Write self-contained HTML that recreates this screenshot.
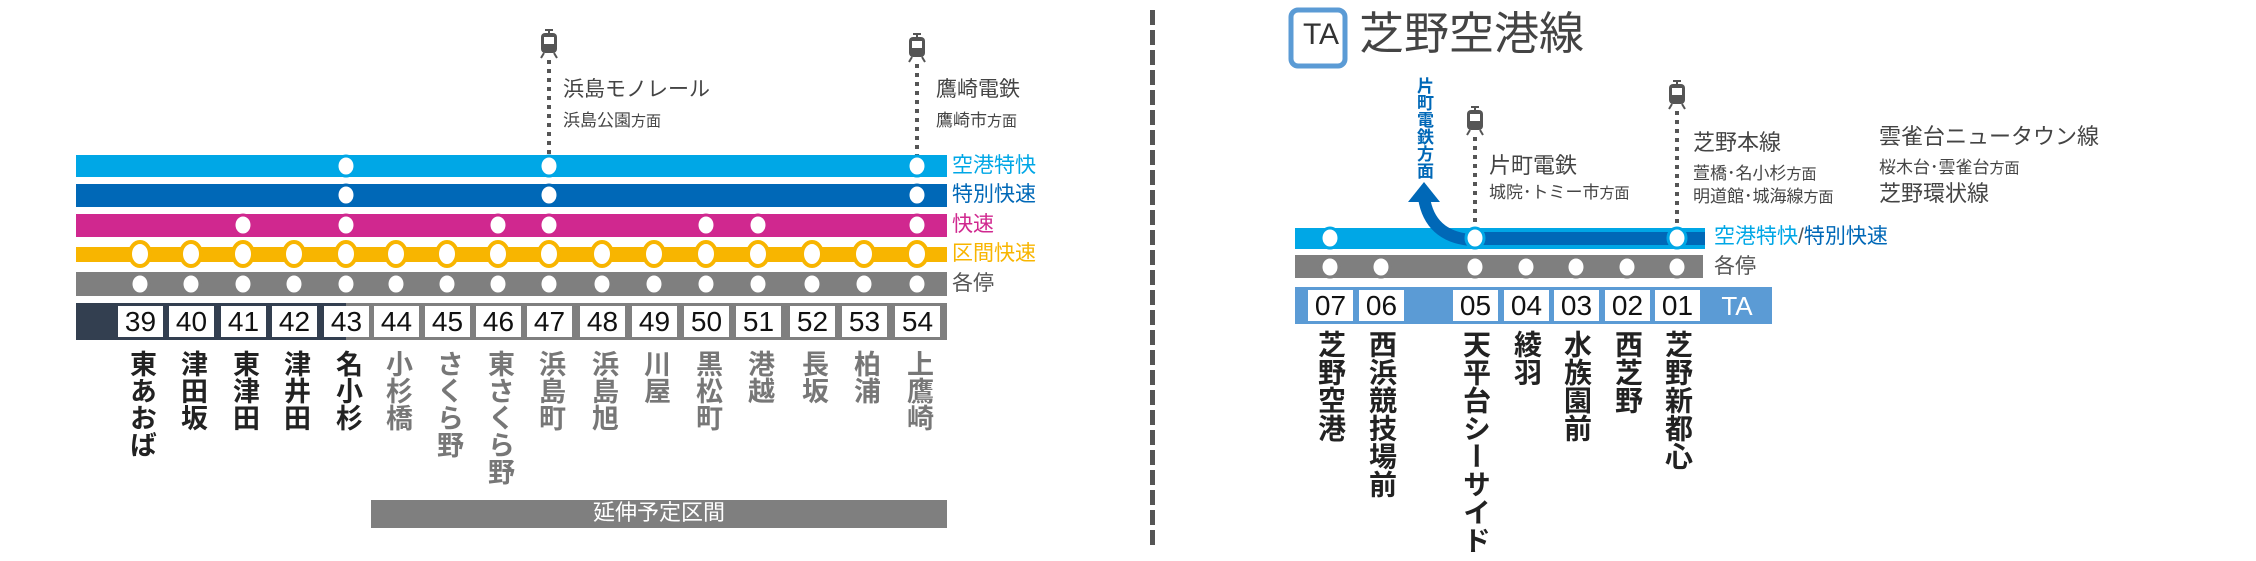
<!DOCTYPE html>
<html><head><meta charset="utf-8">
<style>
html,body{margin:0;padding:0;background:#fff;}
body{width:2256px;height:561px;position:relative;overflow:hidden;font-family:"Liberation Sans","Noto Sans CJK JP",sans-serif;}
.t{position:absolute;white-space:nowrap;line-height:1;}
.v{position:absolute;writing-mode:vertical-rl;text-orientation:upright;font-weight:bold;font-size:27px;line-height:1;letter-spacing:0px;}
.n{position:absolute;background:#fff;text-align:center;font-family:"Liberation Sans Narrow","Liberation Sans",sans-serif;font-size:28px;color:#111;}
.sm{font-size:15px;}
</style></head><body>
<svg width="2256" height="561" style="position:absolute;left:0;top:0">
<defs>
<g id="train"><rect x="-8" y="4" width="16" height="20" rx="4" fill="#555"/><rect x="-5" y="8" width="10" height="7" fill="#fff"/><rect x="-4" y="0" width="8" height="2" fill="#555"/><line x1="0" y1="1" x2="0" y2="4" stroke="#555" stroke-width="2"/><line x1="-5" y1="24" x2="-8" y2="29" stroke="#555" stroke-width="2"/><line x1="5" y1="24" x2="8" y2="29" stroke="#555" stroke-width="2"/></g>
</defs>
<line x1="549" y1="60" x2="549" y2="155" stroke="#555" stroke-width="4" stroke-dasharray="4,5"/>
<line x1="917" y1="64" x2="917" y2="155" stroke="#555" stroke-width="4" stroke-dasharray="4,5"/>
<use href="#train" x="549" y="29"/>
<use href="#train" x="917" y="33"/>
<rect x="76" y="155" width="871" height="22" fill="#00a7e6"/>
<rect x="76" y="184" width="871" height="23" fill="#0068b7"/>
<rect x="76" y="214" width="871" height="23" fill="#d0288f"/>
<rect x="76" y="247" width="871" height="15" fill="#f8b500"/>
<rect x="76" y="272" width="871" height="24" fill="#7f7f7f"/>
<g stroke-width="3" fill="#fff">
<ellipse cx="346" cy="166" rx="9" ry="10" stroke="#00a7e6"/><ellipse cx="549" cy="166" rx="9" ry="10" stroke="#00a7e6"/><ellipse cx="917" cy="166" rx="9" ry="10" stroke="#00a7e6"/>
<ellipse cx="346" cy="195" rx="9" ry="10" stroke="#0068b7"/><ellipse cx="549" cy="195" rx="9" ry="10" stroke="#0068b7"/><ellipse cx="917" cy="195" rx="9" ry="10" stroke="#0068b7"/>
<ellipse cx="243" cy="225" rx="9" ry="10" stroke="#d0288f"/><ellipse cx="346" cy="225" rx="9" ry="10" stroke="#d0288f"/><ellipse cx="498" cy="225" rx="9" ry="10" stroke="#d0288f"/><ellipse cx="549" cy="225" rx="9" ry="10" stroke="#d0288f"/><ellipse cx="706" cy="225" rx="9" ry="10" stroke="#d0288f"/><ellipse cx="758" cy="225" rx="9" ry="10" stroke="#d0288f"/><ellipse cx="917" cy="225" rx="9" ry="10" stroke="#d0288f"/>
</g>
<g stroke-width="4" fill="#fff" stroke="#f8b500">
<ellipse cx="140" cy="254" rx="10" ry="12"/><ellipse cx="191" cy="254" rx="10" ry="12"/><ellipse cx="243" cy="254" rx="10" ry="12"/><ellipse cx="294" cy="254" rx="10" ry="12"/><ellipse cx="346" cy="254" rx="10" ry="12"/><ellipse cx="396" cy="254" rx="10" ry="12"/><ellipse cx="447" cy="254" rx="10" ry="12"/><ellipse cx="498" cy="254" rx="10" ry="12"/><ellipse cx="549" cy="254" rx="10" ry="12"/><ellipse cx="602" cy="254" rx="10" ry="12"/><ellipse cx="654" cy="254" rx="10" ry="12"/><ellipse cx="706" cy="254" rx="10" ry="12"/><ellipse cx="758" cy="254" rx="10" ry="12"/><ellipse cx="812" cy="254" rx="10" ry="12"/><ellipse cx="864" cy="254" rx="10" ry="12"/><ellipse cx="917" cy="254" rx="10" ry="12"/>
</g>
<g stroke-width="3" fill="#fff" stroke="#7f7f7f">
<ellipse cx="140" cy="284" rx="9" ry="10"/><ellipse cx="191" cy="284" rx="9" ry="10"/><ellipse cx="243" cy="284" rx="9" ry="10"/><ellipse cx="294" cy="284" rx="9" ry="10"/><ellipse cx="346" cy="284" rx="9" ry="10"/><ellipse cx="396" cy="284" rx="9" ry="10"/><ellipse cx="447" cy="284" rx="9" ry="10"/><ellipse cx="498" cy="284" rx="9" ry="10"/><ellipse cx="549" cy="284" rx="9" ry="10"/><ellipse cx="602" cy="284" rx="9" ry="10"/><ellipse cx="654" cy="284" rx="9" ry="10"/><ellipse cx="706" cy="284" rx="9" ry="10"/><ellipse cx="758" cy="284" rx="9" ry="10"/><ellipse cx="812" cy="284" rx="9" ry="10"/><ellipse cx="864" cy="284" rx="9" ry="10"/><ellipse cx="917" cy="284" rx="9" ry="10"/>
</g>
<rect x="76" y="303" width="871" height="37" fill="#7f7f7f"/>
<rect x="76" y="303" width="270" height="37" fill="#333f50"/>
<rect x="371" y="500" width="576" height="28" fill="#7f7f7f"/>
<line x1="1152.5" y1="10" x2="1152.5" y2="548" stroke="#555" stroke-width="5" stroke-dasharray="15,5"/>
<rect x="1291" y="10" width="54" height="56" rx="7" fill="#fff" stroke="#5b9bd5" stroke-width="5"/>
<line x1="1475" y1="137" x2="1475" y2="228" stroke="#555" stroke-width="4" stroke-dasharray="4,5"/>
<line x1="1677" y1="111" x2="1677" y2="228" stroke="#555" stroke-width="4" stroke-dasharray="4,5"/>
<use href="#train" x="1475" y="106"/>
<use href="#train" x="1677" y="80"/>
<rect x="1295" y="228" width="410" height="21" fill="#00a7e6"/>
<rect x="1475" y="232" width="230" height="13" fill="#0068b7"/>
<path d="M1470 240 Q1430 236 1424 198" fill="none" stroke="#0068b7" stroke-width="12"/>
<polygon points="1424,182 1408,202 1440,202" fill="#0068b7"/>
<rect x="1295" y="255" width="408" height="23" fill="#7f7f7f"/>
<g stroke-width="3" fill="#fff">
<ellipse cx="1330" cy="238" rx="9" ry="10" stroke="#00a7e6"/><ellipse cx="1475" cy="238" rx="9" ry="10" stroke="#00a7e6"/><ellipse cx="1677" cy="238" rx="9" ry="10" stroke="#00a7e6"/>
</g>
<g stroke-width="3" fill="#fff" stroke="#7f7f7f">
<ellipse cx="1330" cy="267" rx="9" ry="10"/><ellipse cx="1381" cy="267" rx="9" ry="10"/><ellipse cx="1475" cy="267" rx="9" ry="10"/><ellipse cx="1526" cy="267" rx="9" ry="10"/><ellipse cx="1576" cy="267" rx="9" ry="10"/><ellipse cx="1627" cy="267" rx="9" ry="10"/><ellipse cx="1677" cy="267" rx="9" ry="10"/>
</g>
<rect x="1295" y="287" width="477" height="37" fill="#5b9bd5"/>
</svg>

<div class="t" style="left:563px;top:79px;font-size:21px;color:#444">浜島モノレール</div>
<div class="t" style="left:563px;top:112px;font-size:17px;color:#444">浜島公園<span class="sm">方面</span></div>
<div class="t" style="left:936px;top:79px;font-size:21px;color:#444">鷹崎電鉄</div>
<div class="t" style="left:936px;top:112px;font-size:17px;color:#444">鷹崎市<span class="sm">方面</span></div>
<div class="t" style="left:952px;top:155px;font-size:21px;color:#00a7e6">空港特快</div>
<div class="t" style="left:952px;top:184px;font-size:21px;color:#0068b7">特別快速</div>
<div class="t" style="left:952px;top:214px;font-size:21px;color:#d0288f">快速</div>
<div class="t" style="left:952px;top:243px;font-size:21px;color:#f8b500">区間快速</div>
<div class="t" style="left:952px;top:273px;font-size:21px;color:#555">各停</div>

<div class="n" style="left:118px;top:306px;width:45px;height:31px;line-height:31px">39</div>
<div class="n" style="left:169px;top:306px;width:45px;height:31px;line-height:31px">40</div>
<div class="n" style="left:221px;top:306px;width:45px;height:31px;line-height:31px">41</div>
<div class="n" style="left:272px;top:306px;width:45px;height:31px;line-height:31px">42</div>
<div class="n" style="left:324px;top:306px;width:45px;height:31px;line-height:31px">43</div>
<div class="n" style="left:374px;top:306px;width:45px;height:31px;line-height:31px">44</div>
<div class="n" style="left:425px;top:306px;width:45px;height:31px;line-height:31px">45</div>
<div class="n" style="left:476px;top:306px;width:45px;height:31px;line-height:31px">46</div>
<div class="n" style="left:527px;top:306px;width:45px;height:31px;line-height:31px">47</div>
<div class="n" style="left:580px;top:306px;width:45px;height:31px;line-height:31px">48</div>
<div class="n" style="left:632px;top:306px;width:45px;height:31px;line-height:31px">49</div>
<div class="n" style="left:684px;top:306px;width:45px;height:31px;line-height:31px">50</div>
<div class="n" style="left:736px;top:306px;width:45px;height:31px;line-height:31px">51</div>
<div class="n" style="left:790px;top:306px;width:45px;height:31px;line-height:31px">52</div>
<div class="n" style="left:842px;top:306px;width:45px;height:31px;line-height:31px">53</div>
<div class="n" style="left:895px;top:306px;width:45px;height:31px;line-height:31px">54</div>

<div class="v" style="left:127px;top:350px;color:#222">東あおば</div>
<div class="v" style="left:178px;top:350px;color:#222">津田坂</div>
<div class="v" style="left:230px;top:350px;color:#222">東津田</div>
<div class="v" style="left:281px;top:350px;color:#222">津井田</div>
<div class="v" style="left:333px;top:350px;color:#222">名小杉</div>
<div class="v" style="left:383px;top:350px;color:#777">小杉橋</div>
<div class="v" style="left:434px;top:350px;color:#777">さくら野</div>
<div class="v" style="left:485px;top:350px;color:#777">東さくら野</div>
<div class="v" style="left:536px;top:350px;color:#777">浜島町</div>
<div class="v" style="left:589px;top:350px;color:#777">浜島旭</div>
<div class="v" style="left:641px;top:350px;color:#777">川屋</div>
<div class="v" style="left:693px;top:350px;color:#777">黒松町</div>
<div class="v" style="left:745px;top:350px;color:#777">港越</div>
<div class="v" style="left:799px;top:350px;color:#777">長坂</div>
<div class="v" style="left:851px;top:350px;color:#777">柏浦</div>
<div class="v" style="left:904px;top:350px;color:#777">上鷹崎</div>
<div class="t" style="left:371px;top:502px;width:576px;text-align:center;font-size:22px;color:#fff">延伸予定区間</div>

<div class="t" style="left:1294px;top:20px;width:54px;text-align:center;font-size:30px;color:#333;font-family:'Liberation Sans Narrow','Liberation Sans',sans-serif">TA</div>
<div class="t" style="left:1359px;top:11px;font-size:45px;color:#444">芝野空港線</div>
<div class="v" style="left:1415px;top:77px;font-size:17px;color:#0068b7">片町電鉄方面</div>
<div class="t" style="left:1489px;top:155px;font-size:22px;color:#444">片町電鉄</div>
<div class="t" style="left:1489px;top:184px;font-size:17px;color:#444">城院･トミー市<span class="sm">方面</span></div>
<div class="t" style="left:1693px;top:132px;font-size:22px;color:#444">芝野本線</div>
<div class="t" style="left:1693px;top:165px;font-size:17px;color:#444">萱橋･名小杉<span class="sm">方面</span></div>
<div class="t" style="left:1693px;top:188px;font-size:17px;color:#444">明道館･城海線<span class="sm">方面</span></div>
<div class="t" style="left:1879px;top:126px;font-size:22px;color:#444">雲雀台ニュータウン線</div>
<div class="t" style="left:1879px;top:159px;font-size:17px;color:#444">桜木台･雲雀台<span class="sm">方面</span></div>
<div class="t" style="left:1879px;top:183px;font-size:22px;color:#444">芝野環状線</div>
<div class="t" style="left:1714px;top:226px;font-size:21px;color:#00a7e6">空港特快<span style="color:#555">/</span><span style="color:#0068b7">特別快速</span></div>
<div class="t" style="left:1714px;top:256px;font-size:21px;color:#555">各停</div>

<div class="n" style="left:1308px;top:290px;width:45px;height:31px;line-height:31px">07</div>
<div class="n" style="left:1359px;top:290px;width:45px;height:31px;line-height:31px">06</div>
<div class="n" style="left:1453px;top:290px;width:45px;height:31px;line-height:31px">05</div>
<div class="n" style="left:1504px;top:290px;width:45px;height:31px;line-height:31px">04</div>
<div class="n" style="left:1554px;top:290px;width:45px;height:31px;line-height:31px">03</div>
<div class="n" style="left:1605px;top:290px;width:45px;height:31px;line-height:31px">02</div>
<div class="n" style="left:1655px;top:290px;width:45px;height:31px;line-height:31px">01</div>
<div class="t" style="left:1712px;top:291px;width:50px;text-align:center;font-size:26px;line-height:31px;color:#fff;font-family:'Liberation Sans Narrow','Liberation Sans',sans-serif">TA</div>

<div class="v" style="left:1316px;top:330px;font-size:28px;color:#222">芝野空港</div>
<div class="v" style="left:1367px;top:330px;font-size:28px;color:#222">西浜競技場前</div>
<div class="v" style="left:1461px;top:330px;font-size:28px;color:#222">天平台シーサイド</div>
<div class="v" style="left:1512px;top:330px;font-size:28px;color:#222">綾羽</div>
<div class="v" style="left:1562px;top:330px;font-size:28px;color:#222">水族園前</div>
<div class="v" style="left:1613px;top:330px;font-size:28px;color:#222">西芝野</div>
<div class="v" style="left:1663px;top:330px;font-size:28px;color:#222">芝野新都心</div>
</body></html>
